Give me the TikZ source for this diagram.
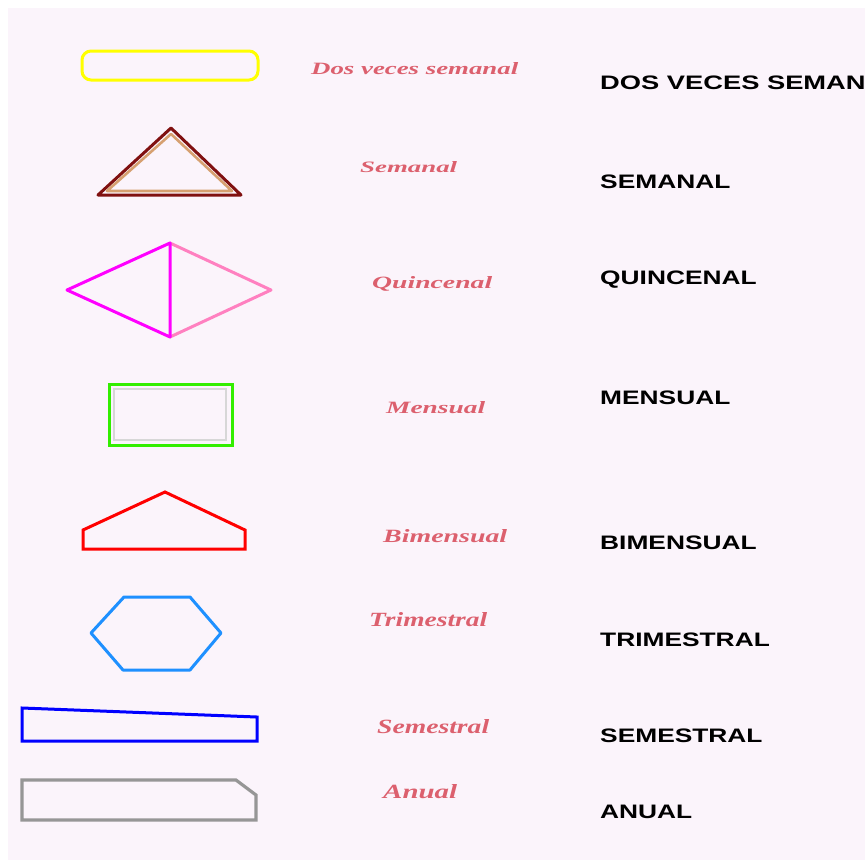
\documentclass[tikz,border=0pt]{standalone}
\usepackage{fontspec}
\setmainfont{Liberation Serif}
\newfontfamily\arialf{Liberation Sans}
\usepackage{graphicx}
\definecolor{bgpink}{RGB}{251,244,251}
\definecolor{labred}{RGB}{220,96,110}
\definecolor{darkred}{RGB}{128,16,16}
\definecolor{tanc}{RGB}{214,160,112}
\definecolor{pinkish}{RGB}{255,128,192}
\definecolor{magc}{RGB}{255,0,255}
\definecolor{yelc}{RGB}{255,255,0}
\definecolor{redc}{RGB}{255,0,0}
\definecolor{bluec}{RGB}{0,0,255}
\definecolor{lgreen}{RGB}{51,238,0}
\definecolor{hexblue}{RGB}{30,144,255}
\definecolor{grayshape}{RGB}{150,150,150}
\definecolor{grayin}{RGB}{215,215,215}
\tikzset{
  shapeline/.style={line width=3pt, line join=round},
  freqlab/.style={inner sep=0pt, anchor=base west, text=labred},
  caplab/.style={inner sep=0pt, anchor=base west, text=black, font=\arialf\bfseries\fontsize{19.5}{20}\selectfont},
}
\newcommand{\flab}[3]{\resizebox{#1pt}{#2pt}{\bfseries\itshape #3}}
\newcommand{\clab}[1]{\scalebox{1.35}[1]{#1}}
\begin{document}
\begin{tikzpicture}[x=1pt,y=-1pt]
\useasboundingbox (0,0) rectangle (865,860);
\clip (0,0) rectangle (865,860);
\fill[white] (0,0) rectangle (865,860);
\fill[bgpink] (8,8) rectangle (865,860);

% 1 yellow rounded rectangle
\draw[shapeline, yelc, rounded corners=9pt] (82,51) rectangle (258,80);
% 2 triangle
\draw[shapeline, darkred] (171,128) -- (241,195) -- (98,195) -- cycle;
\draw[line width=2.6pt, tanc, line join=round] (171,134) -- (232,191) -- (107,191) -- cycle;
% 3 diamond
\draw[shapeline, pinkish] (170,243) -- (271,290) -- (170,337);
\draw[shapeline, magc] (170,243) -- (67,290) -- (170,337) -- cycle;
% 4 rectangle
\draw[line width=2.4pt, grayin] (114,389) rectangle (226,440);
\draw[shapeline, lgreen, line join=miter] (109,384) rectangle (232,445);
% 5 pentagon
\draw[shapeline, redc, line join=miter] (83,549) -- (83,530) -- (165,492) -- (245,530) -- (245,549) -- cycle;
% 6 hexagon
\draw[shapeline, hexblue] (91,633) -- (124,597) -- (190,597) -- (221,633) -- (190,670) -- (123,670) -- cycle;
% 7 trapezoid
\draw[shapeline, bluec, line join=miter] (22,708) -- (257,717) -- (257,741) -- (22,741) -- cycle;
% 8 gray shape
\draw[line width=3.2pt, grayshape, line join=miter] (22,780) -- (236,780) -- (256,795) -- (256,820) -- (22,820) -- cycle;

% left labels
\node[freqlab] (l1) at (311,74) {\flab{207}{12}{Dos veces semanal}};
\node[freqlab] (l2) at (360,172) {\flab{97}{11}{Semanal}};
\node[freqlab] (l3) at (372,288) {\flab{120}{12}{Quincenal}};
\node[freqlab] (l4) at (386,413) {\flab{99}{12}{Mensual}};
\node[freqlab] (l5) at (383,542) {\flab{124}{13}{Bimensual}};
\node[freqlab] (l6) at (369,626) {\flab{118}{14}{Trimestral}};
\node[freqlab] (l7) at (377,733) {\flab{112}{14}{Semestral}};
\node[freqlab] (l8) at (383,798) {\flab{74}{14}{Anual}};

% right labels
\node[caplab] (r1) at (600,89) {\scalebox{1.4}[1]{DOS VECES SEMANAL}};
\node[caplab] (r2) at (600,188) {\clab{SEMANAL}};
\node[caplab] (r3) at (600,284) {\clab{QUINCENAL}};
\node[caplab] (r4) at (600,404) {\clab{MENSUAL}};
\node[caplab] (r5) at (600,549) {\clab{BIMENSUAL}};
\node[caplab] (r6) at (600,646) {\clab{TRIMESTRAL}};
\node[caplab] (r7) at (600,742) {\clab{SEMESTRAL}};
\node[caplab] (r8) at (600,818) {\clab{ANUAL}};
\end{tikzpicture}
\end{document}
